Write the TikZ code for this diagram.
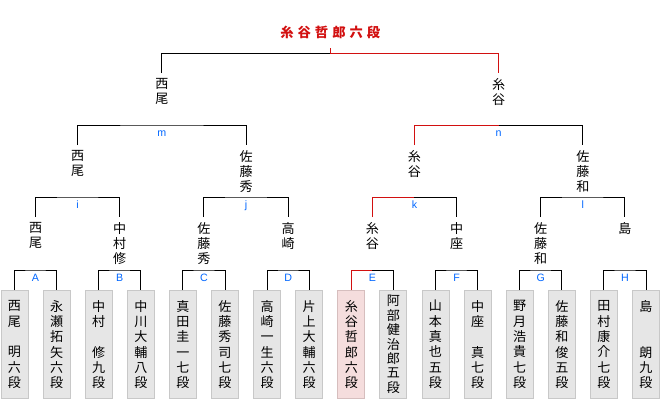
\documentclass[tikz,border=0pt]{standalone}
\usepackage{fontspec}
\setmainfont{Liberation Sans}
\newfontfamily\jpfont{Noto Sans CJK JP}
\definecolor{WinRed}{RGB}{210,16,16}
\definecolor{LabelBlue}{RGB}{0,102,255}
\definecolor{BoxGray}{RGB}{230,230,230}
\definecolor{BoxEdge}{RGB}{200,200,200}
\definecolor{WinPink}{RGB}{245,221,221}
\definecolor{WinEdge}{RGB}{214,190,190}
\tikzset{
  player box/.style={
    draw=BoxEdge,
    fill=BoxGray,
    line width=0.75pt,
    minimum width=20.25pt,
    minimum height=81pt,
    inner sep=0pt,
    align=center,
    font=\jpfont\fontsize{9.8}{11.5}\selectfont,
  },
  winner box/.style={
    player box,
    draw=WinEdge,
    fill=WinPink,
  },
  name node/.style={
    anchor=north,
    inner xsep=0pt,
    inner ysep=4pt,
    align=center,
    font=\jpfont\fontsize{9.8}{11.25}\selectfont,
  },
  title node/.style={
    anchor=south,
    inner xsep=0pt,
    inner ysep=7pt,
    text=WinRed,
    font=\jpfont\bfseries\fontsize{10}{11}\selectfont,
  },
  match label/.style={
    anchor=base,
    yshift=-8.6pt,
    inner sep=0pt,
    text=LabelBlue,
    font=\fontsize{8}{9}\selectfont,
  },
  bracket/.style={line width=0.75pt,black},
  win line/.style={line width=0.75pt,WinRed},
}

\begin{document}
\begin{tikzpicture}[x=0.75pt,y=-0.75pt]

\useasboundingbox (0,0) rectangle (660,400);

% Players of the first round.
\node[player box] (p1) at (14.5,344.5) {西\\尾\\　\\明\\六\\段};
\node[player box] (p2) at (56.6,344.5) {永\\瀬\\拓\\矢\\六\\段};
\node[player box] (p3) at (98.7,344.5) {中\\村\\　\\修\\九\\段};
\node[player box] (p4) at (140.8,344.5) {中\\川\\大\\輔\\八\\段};
\node[player box] (p5) at (182.9,344.5) {真\\田\\圭\\一\\七\\段};
\node[player box] (p6) at (225.0,344.5) {佐\\藤\\秀\\司\\七\\段};
\node[player box] (p7) at (267.1,344.5) {高\\崎\\一\\生\\六\\段};
\node[player box] (p8) at (309.2,344.5) {片\\上\\大\\輔\\六\\段};
\node[winner box] (p9) at (351.3,344.5) {糸\\谷\\哲\\郎\\六\\段};
\node[player box,font=\jpfont\fontsize{9.8}{10.8}\selectfont] (p10) at (393.4,344.5) {阿\\部\\健\\治\\郎\\五\\段};
\node[player box] (p11) at (435.5,344.5) {山\\本\\真\\也\\五\\段};
\node[player box] (p12) at (477.6,344.5) {中\\座\\　\\真\\七\\段};
\node[player box] (p13) at (519.7,344.5) {野\\月\\浩\\貴\\七\\段};
\node[player box] (p14) at (561.8,344.5) {佐\\藤\\和\\俊\\五\\段};
\node[player box] (p15) at (603.9,344.5) {田\\村\\康\\介\\七\\段};
\node[player box] (p16) at (646.0,344.5) {島\\　\\　\\朗\\九\\段};

% Winners, round by round.
\node[name node] (w1) at (35.55,217) {西\\尾};
\node[name node] (w2) at (119.75,217) {中\\村\\修};
\node[name node] (w3) at (203.95,217) {佐\\藤\\秀};
\node[name node] (w4) at (288.15,217) {高\\崎};
\node[name node] (w5) at (372.35,217) {糸\\谷};
\node[name node] (w6) at (456.55,217) {中\\座};
\node[name node] (w7) at (540.75,217) {佐\\藤\\和};
\node[name node] (w8) at (624.95,217) {島};

\node[name node] (s1) at (77.65,145) {西\\尾};
\node[name node] (s2) at (246.05,145) {佐\\藤\\秀};
\node[name node] (s3) at (414.45,145) {糸\\谷};
\node[name node] (s4) at (582.85,145) {佐\\藤\\和};

\node[name node] (f1) at (161.85,73) {西\\尾};
\node[name node] (f2) at (498.65,73) {糸\\谷};

\node[title node] (champ) at (330.25,48) {糸\hspace{3pt}谷\hspace{3pt}哲\hspace{3pt}郎\hspace{3pt}六\hspace{3pt}段};

% Match points.
\coordinate (mA) at (35.55,270);
\coordinate (mB) at (119.75,270);
\coordinate (mC) at (203.95,270);
\coordinate (mD) at (288.15,270);
\coordinate (mE) at (372.35,270);
\coordinate (mF) at (456.55,270);
\coordinate (mG) at (540.75,270);
\coordinate (mH) at (624.95,270);
\coordinate (mi) at (77.65,197);
\coordinate (mj) at (246.05,197);
\coordinate (mk) at (414.45,197);
\coordinate (ml) at (582.85,197);
\coordinate (mm) at (161.85,125);
\coordinate (mn) at (498.65,125);
\coordinate (mfin) at (330.25,53);

\foreach \a/\m/\b in {p1/mA/p2,p3/mB/p4,p5/mC/p6,p7/mD/p8,p11/mF/p12,p13/mG/p14,p15/mH/p16,w1/mi/w2,w3/mj/w4,w7/ml/w8,s1/mm/s2}
  \draw[bracket] (\a.north) |- (\m) -| (\b.north);

% Path of the winner.
\draw[win line] (p9.north) |- (mE);
\draw[bracket] (mE) -| (p10.north);
\draw[win line] (w5.north) |- (mk);
\draw[bracket] (mk) -| (w6.north);
\draw[win line] (s3.north) |- (mn);
\draw[bracket] (mn) -| (s4.north);
\draw[bracket] (f1.north) |- (mfin);
\draw[win line] (mfin) -| (f2.north);
\draw[win line] (champ.south) -- (mfin);

\foreach \m/\t in {mA/A,mB/B,mC/C,mD/D,mE/E,mF/F,mG/G,mH/H,mi/i,mj/j,mk/k,ml/l,mm/m,mn/n}
  \node[match label] (lbl\t) at (\m) {\t};

\end{tikzpicture}
\end{document}
